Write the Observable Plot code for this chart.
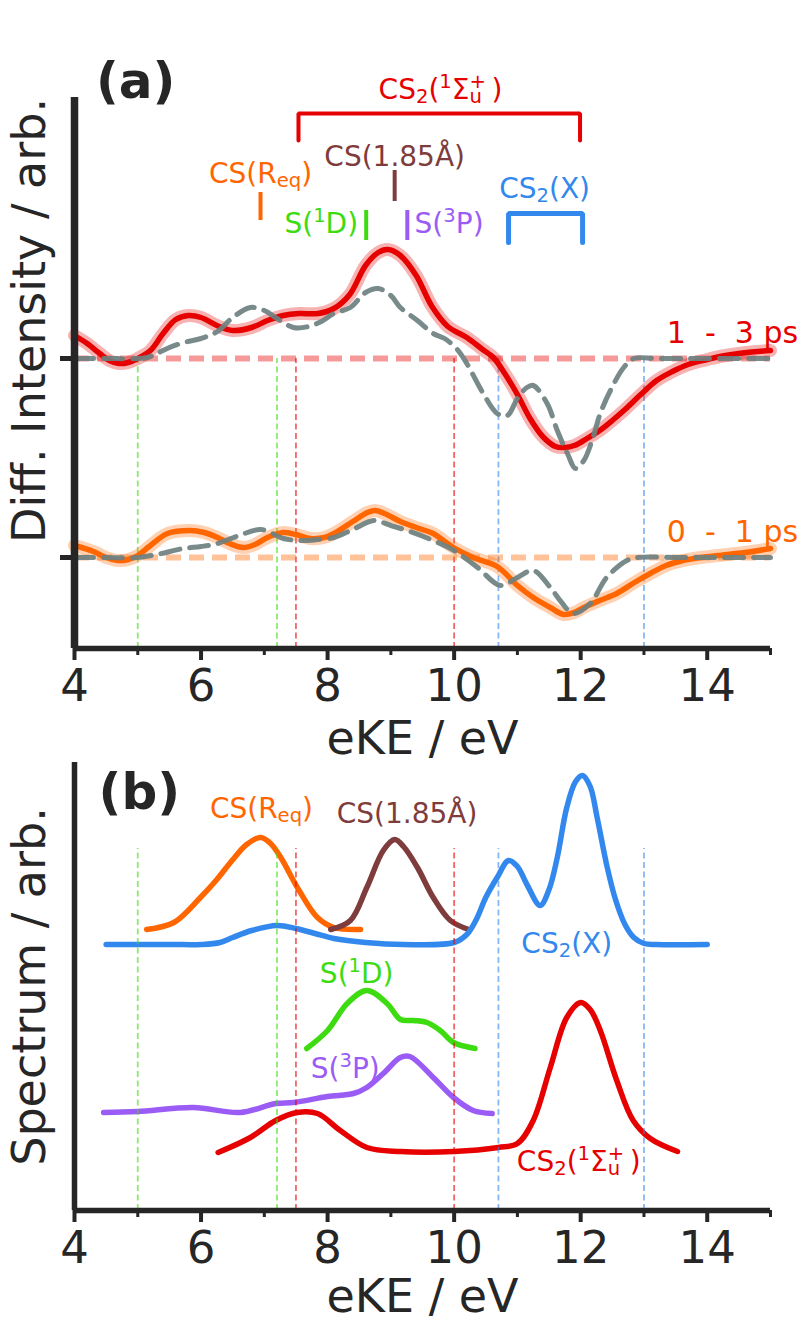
<!DOCTYPE html>
<html><head><meta charset="utf-8">
<script src="https://cdn.jsdelivr.net/npm/d3@7"></script>
<script src="https://cdn.jsdelivr.net/npm/@observablehq/plot@0.6"></script>
<style>
html,body{margin:0;padding:0;background:#fff;}
#chart{width:799px;}
#chart svg{display:block;}
</style></head><body><div id="chart"></div>
<script>
// ---------------- DATA : panel (a) difference spectra ----------------
const eKE_13ps = [4.0,4.2,4.4,4.55,4.7,4.85,5.0,5.2,5.4,5.6,5.8,6.0,6.25,6.5,6.8,7.05,7.3,7.55,7.85,8.1,8.35,8.6,8.8,8.95,9.15,9.4,9.65,9.9,10.2,10.45,10.62,10.8,11.0,11.2,11.4,11.6,11.75,11.9,12.1,12.3,12.5,12.7,12.95,13.2,13.45,13.7,14.0,14.2,14.5,14.8,15.0];
const diff_13ps = [23,15,5,-2,-5,-4,0,8,25,39,43,41,33,28,31,38,43,45,45,50,64,93,106,109,103,83,52,32,21,9,1,-15,-36,-60,-78,-88,-89,-87,-80,-72,-62,-51,-36,-22,-13,-6,-1,2,5,7,8];
const eKE_13ps_model = [4.0,4.5,5.0,5.15,5.3,5.5,5.73,6.0,6.26,6.5,6.78,7.0,7.2,7.46,7.7,7.9,8.1,8.36,8.6,8.8,9.0,9.15,9.42,9.67,9.85,10.05,10.2,10.46,10.68,10.84,11.0,11.15,11.25,11.47,11.63,11.79,11.92,12.05,12.18,12.31,12.47,12.68,12.84,13.2,14.0,15.0];
const diff_13ps_model = [0,0,0,1,5,11,16,20,27,41,51,48,40,31,32,37,45,51,66,70,63,51,38,25,20,9,-5,-35,-55,-57,-40,-29,-27,-45,-72,-95,-110,-102,-82,-55,-32,-9,0,0,0,0];
const eKE_01ps = [4.0,4.3,4.5,4.68,4.85,5.0,5.2,5.47,5.83,6.05,6.26,6.45,6.67,6.85,7.05,7.3,7.5,7.73,7.95,8.1,8.4,8.63,8.75,8.9,9.15,9.4,9.67,9.85,9.99,10.3,10.68,11.0,11.25,11.52,11.73,11.9,12.05,12.3,12.57,12.85,13.1,13.35,13.62,13.9,14.16,14.6,15.0];
const diff_01ps = [12,6,0,-3,-2,2,12,24,27,25,20,14,10,13,20,25,23,19,20,24,36,45,47,44,36,30,24,16,10,0,-9,-28,-40,-50,-57,-55,-50,-43,-36,-25,-16,-8,-3,0,2,5,9];
const eKE_01ps_model = [4.0,4.5,5.0,5.3,5.72,6.0,6.26,6.6,6.95,7.3,7.57,7.85,8.1,8.4,8.73,9.0,9.3,9.67,10.0,10.37,10.73,11.0,11.25,11.52,11.7,11.88,12.15,12.41,12.73,12.9,13.5,14.0,15.0];
const diff_01ps_model = [0,0,0,3,9,11,14,22,28,19,17,18,20,28,37,32,26,17,7,-10,-28,-20,-13,-30,-45,-56,-46,-20,-3,0,0,0,0];
const delayLabels = ["1\u00a0\u00a0-\u00a0\u00a03 ps", "0\u00a0\u00a0-\u00a0\u00a01 ps"];
const delayOffsets = [199, 0];

// ---------------- DATA : panel (b) reference spectra ----------------
const eKE_CS2X = [4.5,5.5,6.0,6.3,6.5,6.8,7.2,7.5,7.8,8.1,8.6,9.2,10.0,10.2,10.35,10.5,10.68,10.86,11.0,11.15,11.36,11.5,11.63,11.78,11.92,12.03,12.15,12.26,12.42,12.55,12.7,12.84,13.0,13.2,14.0];
const spec_CS2X = [0,0,0,2,7,14,19,16,11,6,2,0,2,10,25,47,67,84,78,60,39,55,87,137,163,169,158,127,77,45,20,7,1,0,0];
const eKE_CSReq = [5.14,5.57,5.99,6.25,6.49,6.72,6.94,7.1,7.26,7.55,7.84,8.1,8.52];
const spec_CSReq = [0,7,32,50,69,85,92,86,72,39,12,2,0];
const eKE_CS185 = [8.05,8.36,8.62,8.88,9.06,9.2,9.42,9.67,9.94,10.23];
const spec_CS185 = [0,9,42,79,90,83,62,32,9,0];
const eKE_S1D = [7.67,8.0,8.31,8.62,8.94,9.15,9.36,9.57,9.78,9.99,10.33];
const spec_S1D = [0,18,45,58,45,29,28,26,18,6,0];
const eKE_S3P = [4.46,5.0,5.88,6.62,7.18,7.46,8.0,8.41,8.62,8.88,9.15,9.3,9.67,9.99,10.3,10.6];
const spec_S3P = [0,1,5,0,9,10,16,19,25,39,55,56,35,15,2,-1];
const eKE_CS2S = [6.27,6.78,7.18,7.52,7.84,8.2,8.62,9.15,10.0,10.7,11.0,11.25,11.52,11.78,12.0,12.15,12.31,12.57,12.83,13.1,13.53];
const spec_CS2S = [0,15,32,40,39,22,5,1,1,5,9,32,85,135,150,143,122,72,32,14,1];
const specOffsets = {CS2X: 266, CSReq: 281, CS185: 281, S1D: 162, S3P: 98, CS2S: 58};

// energy markers
const edgeEnergies = [5.0, 7.2, 7.5, 10.0, 10.7, 13.0];
const edgeSpecies  = ["S1D", "S1D", "CS2S", "CS2S", "CS2X", "CS2X"];
const markerEnergies = {CSReq: 6.94, S1D: 8.61, CS185: 9.06, S3P: 9.26};
const bracketEnergies = {CS2S: [7.54, 11.99], CS2X: [10.86, 12.03]};
const names = {
  CS2S: "CS_{2}(^{1}Σ_{u}^{+}\u2009)", CS2X: "CS_{2}(X)", CSReq: "CS(R_{eq})",
  CS185: "CS(1.85Å)", S1D: "S(^{1}D)", S3P: "S(^{3}P)"
};

// ---------------- STYLE ----------------
const FONT = "DejaVu Sans", INK = "#262626";
const col = {CS2S: "#e60000", CS2X: "#3388ee", CSReq: "#ff6600", CS185: "#7f3c3c", S1D: "#3ddc10", S3P: "#9a5cf5", model: "#6e8080"};
const delayColors = ["#e60000", "#ff6600"];
const xDomain = [4, 15];
const yDomainA = [-91, 460];
const yDomainB = [0, 448];
const curve = "catmull-rom";

const rows = (xs, ys, off) => xs.map((x, i) => ({x, y: ys[i] + off}));

function richify(svg) {
  const NS = "http://www.w3.org/2000/svg";
  svg.querySelectorAll("text").forEach(t => {
    const s = t.textContent;
    if (!/[_^]\{/.test(s)) return;
    const fs = parseFloat(getComputedStyle(t).fontSize);
    const parts = s.split(/([_^]\{[^}]*\})/).filter(p => p.length);
    while (t.firstChild) t.removeChild(t.firstChild);
    let shift = 0, prev = null, pendingDx = 0;
    parts.forEach(p => {
      const ts = document.createElementNS(NS, "tspan");
      let target = 0, small = false, txt = p, kind = "n";
      if (p[0] === "_") { kind = "sub"; target = 0.16 * fs; small = true; txt = p.slice(2, -1); }
      else if (p[0] === "^") { kind = "sup"; target = -0.36 * fs; small = true; txt = p.slice(2, -1); }
      ts.textContent = txt;
      if (small) ts.setAttribute("font-size", 0.7 * fs);
      if (target !== shift) ts.setAttribute("dy", target - shift);
      let dx = pendingDx; pendingDx = 0;
      const stacked = kind === "sup" && prev && prev.kind === "sub";
      if (stacked) dx -= prev.w;
      if (dx) ts.setAttribute("dx", dx);
      t.appendChild(ts);
      const w = ts.getComputedTextLength();
      if (stacked && prev.w > w) pendingDx = prev.w - w;
      shift = target;
      prev = {kind, w};
    });
  });
}

const common = {
  width: 799, marginLeft: 74, marginRight: 29,
  x: {domain: xDomain},
  style: {fontFamily: FONT, background: "transparent", color: INK, overflow: "visible"}
};
const xAxes = [
  Plot.axisX({ticks: [4, 6, 8, 10, 12, 14], tickSize: 12, tickPadding: 9, strokeWidth: 4, fontSize: 45, color: INK, label: null}),
  Plot.axisX({ticks: [5, 7, 9, 11, 13, 15], tickSize: 7, strokeWidth: 3, tickFormat: () => null, color: INK, label: null})
];
const txt = (data, fs, opts) => Plot.text(data, {fontSize: fs, dy: -0.32 * fs, lineAnchor: "middle", ...opts});
const yLabel = (label, yCenter) => Plot.text([label], {frameAnchor: "left", y: yCenter, dx: -44, rotate: -90, textAnchor: "middle", lineAnchor: "middle", fontSize: 46, fill: INK});
const xLabel = (dy) => Plot.text(["eKE / eV"], {frameAnchor: "bottom", dy, textAnchor: "middle", lineAnchor: "middle", fontSize: 46, fill: INK});

// ---------------- PANEL (a) ----------------
const vlineRows = edgeEnergies.map((x, i) => ({x, c: col[edgeSpecies[i]]}));
const delaySeries = [
  {data: rows(eKE_13ps, diff_13ps, delayOffsets[0]), model: rows(eKE_13ps_model, diff_13ps_model, delayOffsets[0]), c: delayColors[0]},
  {data: rows(eKE_01ps, diff_01ps, delayOffsets[1]), model: rows(eKE_01ps_model, diff_01ps_model, delayOffsets[1]), c: delayColors[1]}
];
const bracketLevels = {CS2S: [417, 444], CS2X: [315, 344]};
const bracketRows = Object.entries(bracketEnergies).flatMap(([k, [x0, x1]]) => {
  const [lo, hi] = bracketLevels[k];
  return [[x0, lo], [x0, hi], [x1, hi], [x1, lo]].map(([x, y]) => ({x, y, k}));
});
const markerLevels = {CSReq: [337, 365], S1D: [317, 347], CS185: [356, 387], S3P: [317, 347]};
const markerRows = Object.entries(markerEnergies).map(([k, x]) => ({x, y1: markerLevels[k][0], y2: markerLevels[k][1], k}));
const labelsA = [
  {k: "CS2S", x: 9.785, y: 459}, {k: "CSReq", x: 6.94, y: 375}, {k: "CS185", x: 9.06, y: 392},
  {k: "S1D", x: 7.90, y: 325}, {k: "S3P", x: 9.92, y: 325}, {k: "CS2X", x: 11.43, y: 360}
];
const delayLabelRows = delayLabels.map((t, i) => ({t, x: 13.36, y: delayOffsets[i] + 16, c: delayColors[i]}));

const plotA = Plot.plot({
  ...common, height: 760, marginTop: 97, marginBottom: 112,
  y: {domain: yDomainA},
  marks: [
    Plot.ruleX(vlineRows, {x: "x", y1: yDomainA[0], y2: delayOffsets[0], stroke: "c", strokeWidth: 1.8, strokeDasharray: "6,3.5", strokeOpacity: 0.6}),
    Plot.ruleY(delayOffsets.map((y, i) => ({y, c: delayColors[i]})), {y: "y", stroke: "c", strokeWidth: 6, strokeDasharray: "15,8", strokeOpacity: 0.4}),
    ...delaySeries.flatMap(s => [
      Plot.line(s.data, {x: "x", y: "y", curve, stroke: s.c, strokeWidth: 13, strokeOpacity: 0.3}),
      Plot.line(s.data, {x: "x", y: "y", curve, stroke: s.c, strokeWidth: 5.5}),
      Plot.line(s.model, {x: "x", y: "y", curve, stroke: col.model, strokeWidth: 5, strokeDasharray: "19,10", strokeOpacity: 0.92})
    ]),
    Plot.line(bracketRows, {x: "x", y: "y", z: "k", stroke: d => col[d.k], strokeWidth: d => d.k === "CS2X" ? 5 : 4, strokeLinejoin: "miter"}),
    Plot.ruleX(markerRows, {x: "x", y1: "y1", y2: "y2", stroke: d => col[d.k], strokeWidth: 4}),
    txt(labelsA, 28, {x: "x", y: "y", text: d => names[d.k], fill: d => col[d.k]}),
    txt(delayLabelRows, 30, {x: "x", y: "y", text: "t", fill: "c", textAnchor: "start"}),
    txt(["(a)"], 50, {x: 4.34, y: 460, textAnchor: "start", fontWeight: "bold", fill: INK}),
    yLabel("Diff. Intensity / arb.", 237),
    xLabel(91),
    Plot.axisY({ticks: delayOffsets, tickSize: 14, strokeWidth: 5, tickFormat: () => null, color: INK, label: null}),
    ...xAxes,
    Plot.ruleY([yDomainA[0]], {stroke: INK, strokeWidth: 5.5}),
    Plot.ruleX([xDomain[0]], {stroke: INK, strokeWidth: 7.5})
  ]
});

// ---------------- PANEL (b) ----------------
const specList = [
  ["CSReq", eKE_CSReq, spec_CSReq], ["CS185", eKE_CS185, spec_CS185], ["CS2X", eKE_CS2X, spec_CS2X],
  ["S1D", eKE_S1D, spec_S1D], ["S3P", eKE_S3P, spec_S3P], ["CS2S", eKE_CS2S, spec_CS2S]
];
const labelsB = [
  {k: "CSReq", x: 6.955, y: 393}, {k: "CS185", x: 9.255, y: 388}, {k: "CS2X", x: 11.78, y: 258},
  {k: "S1D", x: 8.46, y: 228}, {k: "S3P", x: 8.28, y: 133}, {k: "CS2S", x: 11.97, y: 40}
];
const plotB = Plot.plot({
  ...common, height: 561, marginTop: 2, marginBottom: 111,
  y: {domain: yDomainB, axis: null},
  marks: [
    ...specList.map(([k, xs, ys]) => Plot.line(rows(xs, ys, specOffsets[k]), {x: "x", y: "y", curve, stroke: col[k], strokeWidth: 5.5})),
    Plot.ruleX(vlineRows, {x: "x", y1: 0, y2: 362, stroke: "c", strokeWidth: 1.8, strokeDasharray: "6,3.5", strokeOpacity: 0.6}),
    txt(labelsB, 28, {x: "x", y: "y", text: d => names[d.k], fill: d => col[d.k]}),
    txt(["(b)"], 50, {x: 4.38, y: 402, textAnchor: "start", fontWeight: "bold", fill: INK}),
    yLabel("Spectrum / arb.", 224),
    xLabel(87),
    ...xAxes,
    Plot.ruleY([yDomainB[0]], {stroke: INK, strokeWidth: 5.5}),
    Plot.ruleX([xDomain[0]], {stroke: INK, strokeWidth: 5.5})
  ]
});

const host = document.getElementById("chart");
host.appendChild(plotA);
host.appendChild(plotB);
richify(plotA);
richify(plotB);
</script>
</body></html>
